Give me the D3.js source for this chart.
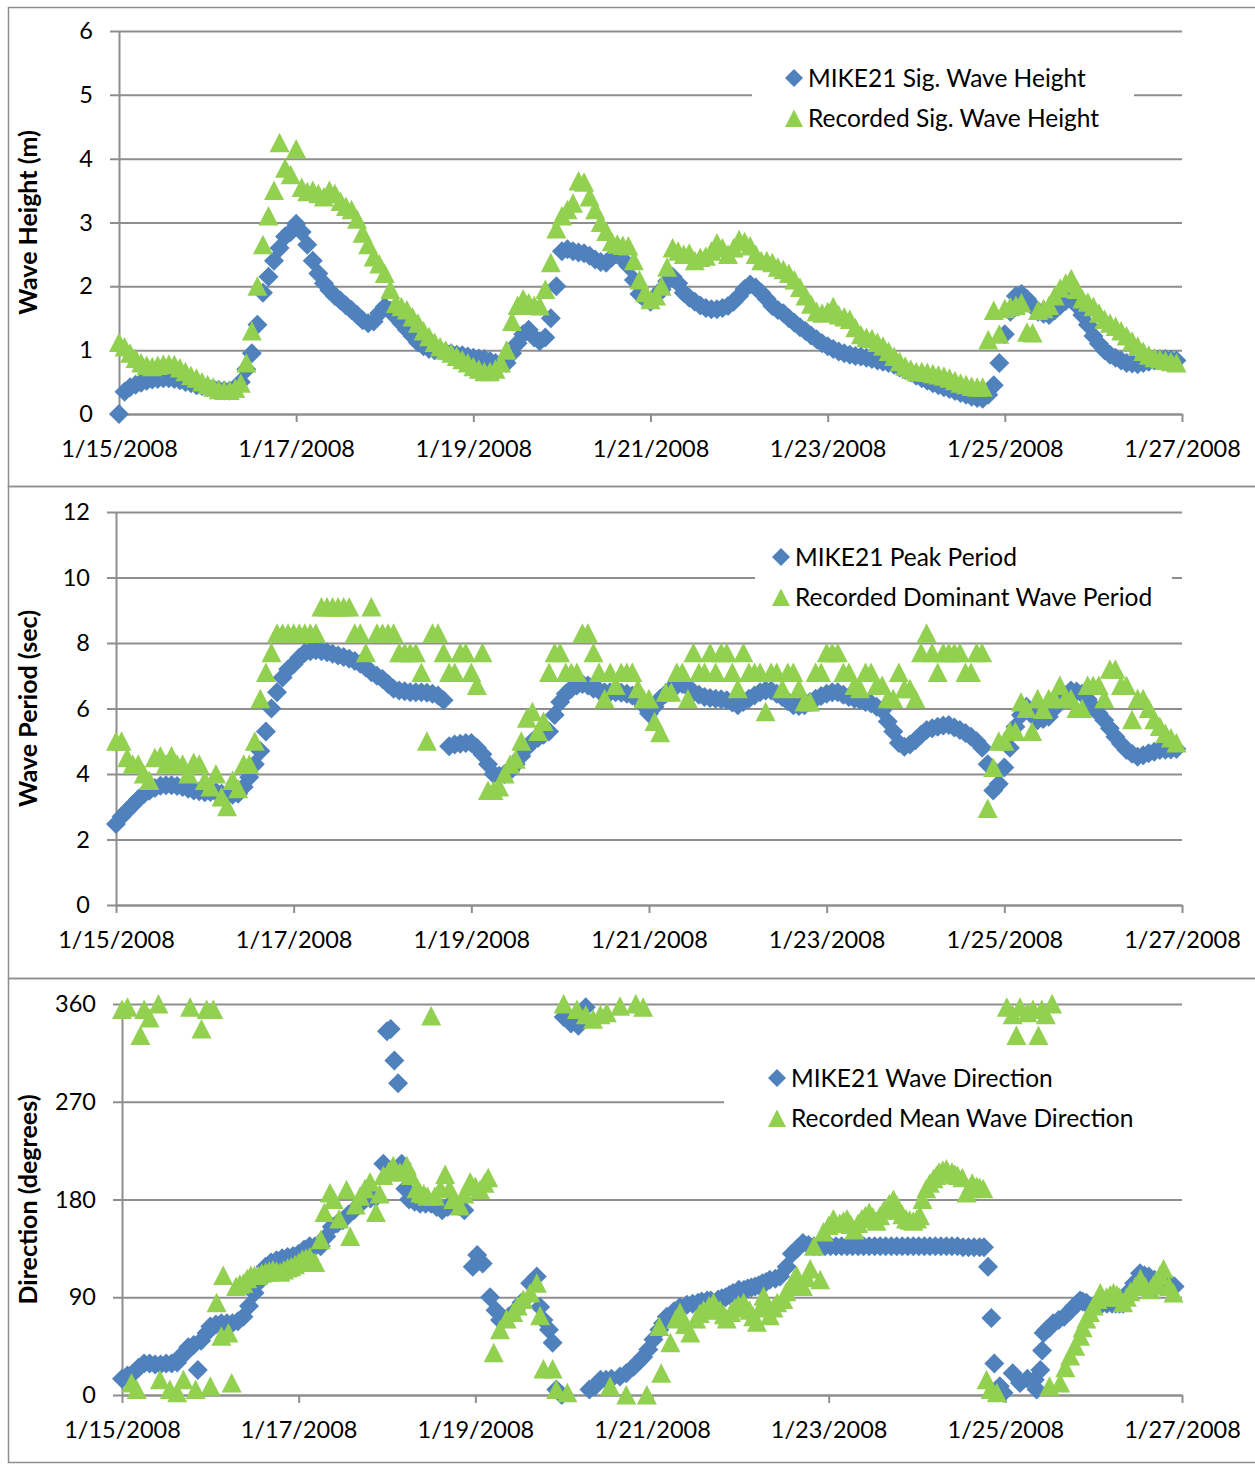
<!DOCTYPE html>
<html>
<head>
<meta charset="utf-8">
<script src="https://cdn.jsdelivr.net/npm/d3@7"></script>
<style>
  body { margin: 0; background: #fff; }
  svg { display: block; font-family: Lato, "Open Sans", sans-serif; }
</style>
</head>
<body>
<svg id="chart" width="1255" height="1465"></svg>
<script>
// tick labels (every two days) and y ticks
const dateTicks = ["2008-01-15", "2008-01-17", "2008-01-19", "2008-01-21", "2008-01-23", "2008-01-25", "2008-01-27"];
const heightTicks = [0, 1, 2, 3, 4, 5, 6];
const periodTicks = [0, 2, 4, 6, 8, 10, 12];
const dirTicks = [0, 90, 180, 270, 360];

// panels 1 and 2: one value every 1.5 hours from 1/15 00:00, one row per day
const hoursStep = d3.range(0, 288, 1.5);

const mikeHeight = [
  0.0, 0.35, 0.42, 0.46, 0.49, 0.52, 0.54, 0.55, 0.56, 0.56, 0.55, 0.53, 0.5, 0.48, 0.45, 0.44,
  0.42, 0.4, 0.38, 0.37, 0.37, 0.4, 0.5, 0.7, 0.95, 1.4, 1.9, 2.15, 2.4, 2.6, 2.78, 2.85,
  2.98, 2.85, 2.65, 2.4, 2.2, 2.05, 1.94, 1.85, 1.78, 1.7, 1.63, 1.55, 1.47, 1.42, 1.45, 1.58,
  1.68, 1.62, 1.52, 1.42, 1.32, 1.22, 1.12, 1.06, 1.02, 1.0, 1.0, 0.97, 0.95, 0.93, 0.92, 0.9,
  0.88, 0.87, 0.86, 0.83, 0.8, 0.79, 0.8, 0.95, 1.11, 1.25, 1.32, 1.2, 1.14, 1.2, 1.5, 2.0,
  2.55, 2.58, 2.55, 2.53, 2.52, 2.48, 2.42, 2.38, 2.37, 2.45, 2.5, 2.42, 2.32, 2.1, 1.88, 1.8,
  1.76, 1.85, 1.95, 2.08, 2.15, 2.05, 1.9, 1.82, 1.76, 1.7, 1.66, 1.64, 1.64, 1.66, 1.69, 1.76,
  1.85, 1.96, 2.03, 1.98, 1.9, 1.8, 1.69, 1.63, 1.58, 1.5, 1.43, 1.36, 1.3, 1.23, 1.17, 1.11,
  1.06, 1.02, 0.98, 0.95, 0.93, 0.91, 0.9, 0.88, 0.86, 0.84, 0.82, 0.8, 0.77, 0.73, 0.69, 0.65,
  0.6, 0.56, 0.52, 0.48, 0.45, 0.42, 0.39, 0.36, 0.33, 0.3, 0.27, 0.25, 0.24, 0.3, 0.45, 0.8,
  1.25, 1.6, 1.85, 1.88, 1.8, 1.7, 1.6, 1.57, 1.55, 1.62, 1.7, 1.77, 1.82, 1.7, 1.55, 1.4,
  1.22, 1.1, 1.0, 0.93, 0.88, 0.84, 0.8, 0.79, 0.78, 0.8, 0.82, 0.84, 0.86, 0.86, 0.85, 0.84
];
const recHeight = [
  1.12, 1.05, 0.95, 0.87, 0.8, 0.76, 0.74, 0.76, 0.78, 0.78, 0.77, 0.72, 0.66, 0.6, 0.56, 0.5,
  0.46, 0.42, 0.38, 0.37, 0.37, 0.4, 0.48, 0.8, 1.3, 2.0, 2.65, 3.1, 3.5, 4.25, 3.85, 3.75,
  4.15, 3.55, 3.48, 3.5, 3.45, 3.4, 3.5, 3.45, 3.33, 3.25, 3.2, 3.05, 2.83, 2.65, 2.46, 2.35,
  2.2, 1.95, 1.73, 1.68, 1.63, 1.52, 1.42, 1.3, 1.21, 1.12, 1.05, 1.0, 0.95, 0.9, 0.85, 0.8,
  0.74, 0.7, 0.66, 0.66, 0.7, 0.8, 1.0, 1.45, 1.7, 1.8, 1.74, 1.7, 1.69, 1.95, 2.37, 2.9,
  3.1, 3.2, 3.3, 3.65, 3.63, 3.4, 3.2, 3.0, 2.86, 2.7, 2.66, 2.64, 2.63, 2.4, 2.1, 1.9,
  1.79, 1.85, 2.0, 2.3, 2.6, 2.55, 2.5, 2.52, 2.4, 2.45, 2.47, 2.55, 2.68, 2.6, 2.5, 2.6,
  2.73, 2.7, 2.63, 2.5, 2.4, 2.4, 2.37, 2.3, 2.26, 2.2, 2.1, 1.98, 1.85, 1.72, 1.6, 1.58,
  1.6, 1.68, 1.55, 1.52, 1.48, 1.35, 1.24, 1.2, 1.18, 1.12, 1.06, 0.98, 0.9, 0.82, 0.75, 0.7,
  0.66, 0.66, 0.65, 0.63, 0.61, 0.59, 0.56, 0.52, 0.48, 0.46, 0.43, 0.42, 0.42, 1.16, 1.62, 1.25,
  1.65, 1.68, 1.7, 1.74, 1.28, 1.27, 1.62, 1.65, 1.7, 1.85, 1.97, 2.05, 2.12, 1.95, 1.8, 1.75,
  1.68, 1.58, 1.48, 1.42, 1.37, 1.3, 1.22, 1.14, 1.06, 0.98, 0.92, 0.88, 0.86, 0.84, 0.82, 0.8
];
const mikePeriod = [
  2.47, 2.7, 2.88, 3.05, 3.23, 3.38, 3.49, 3.57, 3.64, 3.66, 3.66, 3.63, 3.6, 3.55, 3.5, 3.47,
  3.44, 3.45, 3.45, 3.4, 3.35, 3.37, 3.4, 3.6, 3.9, 4.3, 4.7, 5.3, 6.0, 6.5, 6.95, 7.2,
  7.35, 7.55, 7.7, 7.75, 7.78, 7.75, 7.72, 7.67, 7.62, 7.57, 7.52, 7.45, 7.37, 7.25, 7.11, 7.0,
  6.9, 6.75, 6.6, 6.55, 6.53, 6.5, 6.5, 6.5, 6.48, 6.45, 6.4, 6.25, 4.85, 4.9, 4.92, 4.95,
  4.95, 4.8, 4.6, 4.3, 4.0, 3.95, 4.0, 4.1, 4.3, 4.55, 4.8, 5.0, 5.1, 5.2, 5.3, 5.8,
  6.2, 6.45, 6.6, 6.7, 6.75, 6.7, 6.6, 6.55, 6.5, 6.5, 6.5, 6.48, 6.45, 6.4, 6.3, 6.1,
  5.85, 6.05, 6.3, 6.45, 6.6, 6.7, 6.75, 6.65, 6.5, 6.42, 6.35, 6.32, 6.3, 6.28, 6.25, 6.18,
  6.1, 6.2, 6.3, 6.4, 6.5, 6.55, 6.55, 6.45, 6.35, 6.22, 6.1, 6.08, 6.1, 6.2, 6.3, 6.38,
  6.45, 6.5, 6.5, 6.42, 6.35, 6.3, 6.25, 6.2, 6.15, 6.05, 5.95, 5.6, 5.3, 4.95, 4.83, 4.9,
  5.03, 5.2, 5.34, 5.4, 5.44, 5.48, 5.5, 5.42, 5.34, 5.25, 5.14, 5.0, 4.8, 4.3, 3.5, 3.7,
  4.2, 4.8, 5.44, 5.8, 6.05, 5.8, 5.64, 5.68, 5.75, 6.0, 6.25, 6.4, 6.55, 6.52, 6.45, 6.28,
  6.05, 5.85, 5.64, 5.4, 5.14, 4.92, 4.73, 4.62, 4.53, 4.57, 4.63, 4.68, 4.73, 4.74, 4.75, 4.76
];
const recPeriod = [
  5.0, 5.0, 4.5, 4.3, 4.3, 4.0, 3.8, 4.5, 4.55, 4.3, 4.55, 4.3, 4.3, 4.0, 4.35, 4.3,
  3.8, 3.6, 4.0, 3.3, 3.0, 3.8, 3.55, 4.3, 4.3, 5.0, 6.3, 7.1, 7.7, 8.3, 8.3, 8.3,
  8.3, 8.3, 8.3, 8.3, 8.3, 9.1, 9.1, 9.1, 9.1, 9.1, 9.1, 8.3, 8.3, 7.7, 9.1, 8.3,
  8.3, 8.3, 8.3, 7.7, 7.7, 7.7, 7.7, 7.1, 5.0, 8.3, 8.3, 7.7, 7.1, 7.1, 7.7, 7.7,
  7.1, 6.7, 7.7, 3.5, 3.5, 3.6, 4.0, 4.3, 4.45, 5.0, 5.7, 5.9, 5.3, 5.6, 7.1, 7.7,
  7.7, 7.1, 7.1, 7.1, 8.3, 8.3, 7.7, 7.1, 6.3, 7.1, 6.7, 7.1, 7.1, 7.1, 6.6, 6.3,
  6.3, 5.6, 5.26, 6.5, 6.5, 7.1, 7.1, 6.3, 7.7, 7.1, 7.1, 7.7, 7.1, 7.7, 7.7, 7.1,
  6.6, 7.7, 7.1, 7.1, 7.1, 5.9, 7.1, 7.1, 6.6, 7.1, 7.1, 6.6, 6.2, 6.2, 7.1, 7.1,
  7.7, 7.7, 7.7, 7.1, 7.1, 6.7, 6.6, 7.1, 7.1, 6.7, 6.7, 6.3, 6.3, 7.1, 6.6, 6.6,
  6.3, 7.7, 8.3, 7.7, 7.1, 7.7, 7.7, 7.7, 7.7, 7.1, 7.1, 7.7, 7.7, 2.95, 4.2, 5.0,
  5.0, 5.3, 5.3, 6.2, 6.0, 5.3, 6.3, 5.97, 6.3, 6.3, 6.7, 6.3, 6.3, 6.0, 6.0, 6.7,
  6.7, 6.7, 6.3, 7.2, 7.2, 6.7, 6.7, 5.66, 6.3, 6.3, 6.0, 5.66, 5.45, 5.24, 5.1, 4.95
];

// panel 3: [hours after 1/15 00:00, degrees]
const mikeDir = [
  [0,15],[1.5,18],[3,20],[4.5,25],[6,29],[7.5,29],[9,28],[10.5,28],[12,29],[13.5,29],[15,30],[16,36],[17,38],[18,44],
  [19.5,46],[20.6,23],[21.5,50],[23,57],[24,63],[25.5,65],[27,66],[28.5,66],[30,66],[31.5,68],[33,72],[34.5,82],
  [36,94],[37.5,105],[39,118],[40.5,122],[42,124],[43.5,126],[45,127],[46.5,128],[48,130],[49.5,134],[51,137],
  [52.5,137],[54,137],[55.5,146],[57,155],[58.5,158],[60,161],[61.5,166],[63,170],[64.5,175],[66,180],[67.5,181],
  [69,182],[71,213],[72,335],[73,337],[74,308],[75,287],[76,213],[77,190],[78,180],[79.5,178],[81,176],[82.5,176],
  [84,176],[85.5,173],[87,170],[88.5,173],[90,176],[91.5,174],[93,170],[95.3,118],[96.5,129],[98,121],[100,90],
  [101.5,78],[102.7,69],[105,72],[107,78],[108.5,85],[110.9,103],[112.7,109],[113.6,81],[114.5,69],[116,60],[117,48],
  [118,5],[119.5,0],[120,348],[122,342],[124,340],[126,357],[127,5],[128.5,8],[130,14],[131.5,14],[133,15],[135.3,17],
  [137,20],[139,26],[140.5,31],[141.6,35],[143,42],[144.4,51],[146,60],[147,66],[148,72],[150,77],[151.6,81],[153.5,83],
  [155,84],[156.5,85],[157.5,86],[159,87],[160,87],[162,88],[163,89],[164,90],[165,92],[166,94],[167.6,97],[169,97],
  [170,98],[171,99],[172,100],[173,101],[174,103],[175,104],[176,106],[177.5,107],[178.8,109],[180.6,118],[182,130],
  [183.5,135],[185,140],[186.5,138],[188,137],[189.5,137],[191,137],[192.5,137],[194,137],[195.5,137],[197,137],
  [198.5,137],[200,137],[201.5,137],[203,137],[204.5,137],[206,137],[207.5,137],[209,137],[210.5,137],[212,137],
  [213.5,137],[215,137],[216.5,137],[218,137],[219.5,137],[221,137],[222.5,137],[224,137],[225.5,137],[227,137],
  [228.5,136],[230,136],[231.5,136],[233,136],[234.2,136],[235.3,118],[236.2,71],[237,29],[238.5,8],[239.5,2],
  [242,20],[244,11],[246,15],[248,14],[248.5,5],[249.5,23],[250,41],[250.4,57],[251.2,60],[252,62],[253,66],
  [254.5,69],[256,72],[257.5,77],[258.5,81],[259.5,84],[260.3,87],[261,86],[262,85],[263,81],[264,82],[265,83],
  [266.3,84],[267.6,84],[269,84],[270,84],[271,84],[272,84],[273,90],[273.5,95],[275,103],[276.6,112],[277.8,110],
  [279,109],[280.5,106],[282,103],[283,103],[284,103],[285,102],[286,100]
];
const recDir = [
  [0,355],[1.5,357],[2.6,11],[4,5],[5,331],[6,355],[7.5,347],[9.9,360],[10.3,14],[13,5],[15,2],[16.7,14],[18.5,357],
  [20,5],[21.6,337],[23,355],[24,8],[24.8,355],[25.7,85],[27,54],[27.5,110],[28.9,57],[29.8,11],[31,100],[32,102],
  [33,103],[34,107],[35,110],[36,110],[37,110],[38,112],[39,113],[40,114],[41,115],[42,114],[43,113],[44,115],[45,117],
  [46,118],[47,120],[48,122],[49,125],[50,126],[51,127],[52.5,122],[54,143],[55,168],[56.5,186],[57.5,180],[59,162],
  [61,189],[62,146],[63.5,175],[64.7,183],[66,190],[67.4,196],[69,168],[70,185],[71,202],[72.5,206],[73.7,211],
  [75.5,205],[77.4,211],[78.5,202],[80,190],[81,186],[82,185],[83,183],[84,349],[85,183],[86.5,190],[87.8,203],
  [89,190],[90,180],[91.8,174],[93,185],[94.6,196],[96,192],[97.3,189],[98.5,195],[99.5,200],[101,39],[102.7,60],
  [104.5,70],[106.3,76],[107.5,82],[109,88],[110.9,94],[112.7,103],[113.6,73],[114.5,24],[117,24],[118,5],[120,360],
  [121,2],[123.6,355],[126,350],[128,346],[130,350],[131.7,352],[132.6,8],[135.3,358],[137,0],[139.6,360],[141.6,357],
  [142.6,0],[146,63],[146.5,20],[149,48],[150.5,70],[151.6,76],[153,65],[154.4,57],[156,70],[157,75],[158,78],
  [159.5,82],[160.7,85],[161.5,80],[162.5,78],[163.5,74],[164.3,70],[165.5,76],[166.5,80],[167.5,83],[168.9,85],
  [170.5,78],[171.5,72],[172.5,67],[173.5,80],[174.3,91],[175,82],[176,73],[177,80],[178,85],[179.7,88],[180.5,95],
  [181.5,100],[182.5,106],[183.3,110],[184,104],[185,100],[186,108],[187,116],[188,137],[189.7,106],[190.6,150],
  [192,156],[193.3,162],[195,158],[196,160],[197,162],[198,157],[199,152],[200,158],[201,162],[202,165],[203,168],
  [204,164],[205,160],[206,165],[207,170],[208.5,176],[209.6,180],[210.5,175],[211,170],[212,166],[213,162],[214,161],
  [215,160],[216,162],[216.8,165],[217.5,180],[218.5,190],[219.5,195],[220.5,199],[221.3,202],[222,205],[223,207],
  [224,208],[225.5,205],[226.3,203],[227,202],[228.3,200],[229.5,186],[230.3,190],[231,195],[232.2,192],[233,191],
  [234,190],[234.9,14],[236,5],[237.7,2],[240.4,357],[242,350],[243,331],[244,357],[246,352],[247.5,355],[249,331],
  [249.9,355],[251,350],[252,8],[252.7,360],[254.9,11],[256.3,25],[257.6,36],[259,45],[260.3,54],[261,62],[262,70],
  [263,76],[264,82],[265,88],[265.8,94],[267.5,90],[268.5,92],[269.4,94],[270.3,92],[271,90],[272,85],[273,90],
  [274,95],[275.3,100],[276.7,107],[278,100],[279.4,97],[280.2,101],[281,105],[282,110],[283,116],[284.5,100],
  [285.7,94]
];

const svg = d3.select("#chart");
const parseDay = d3.timeParse("%Y-%m-%d");
const t0 = parseDay(dateTicks[0]);
const atHour = h => new Date(+t0 + h * 36e5);
const fmt = d3.timeFormat("%-m/%-d/%Y");

const grey = "#8e8e8e";
const blue = "#4f81bd";
const green = "#92d050";
const diamond = r => `M0,${-r}L${r},0L0,${r}L${-r},0Z`;
const triangle = r => `M0,${-r}L${r},${r * 0.95}L${-r},${r * 0.95}Z`;

const stepped = vals => hoursStep.map((h, i) => [h, vals[i]]);

const panels = [
  { frame: [7, 486], left: 119, right: 1182, top: 31, bottom: 414, domain: [0, 6], ticks: heightTicks,
    title: "Wave Height (m)",
    series: [stepped(mikeHeight), stepped(recHeight)],
    names: ["MIKE21 Sig. Wave Height", "Recorded Sig. Wave Height"],
    legend: { x0: 752, x1: 1134, mark: 794, y: 78 } },
  { frame: [486, 978], left: 116, right: 1182, top: 512, bottom: 905, domain: [0, 12], ticks: periodTicks,
    title: "Wave Period (sec)",
    series: [stepped(mikePeriod), stepped(recPeriod)],
    names: ["MIKE21 Peak Period", "Recorded Dominant Wave Period"],
    legend: { x0: 755, x1: 1172, mark: 781, y: 557 } },
  { frame: [978, 1462], left: 122, right: 1182, top: 1004, bottom: 1395, domain: [0, 360], ticks: dirTicks,
    title: "Direction (degrees)",
    series: [mikeDir, recDir],
    names: ["MIKE21 Wave Direction", "Recorded Mean Wave Direction"],
    legend: { x0: 724, x1: 1182, mark: 777, y: 1078 } }
];

panels.forEach(p => {
  // outer frame
  svg.append("rect")
    .attr("x", 8.5).attr("y", p.frame[0] + 0.5)
    .attr("width", 1270).attr("height", p.frame[1] - p.frame[0])
    .attr("fill", "none").attr("stroke", grey).attr("stroke-width", 1.5);

  const g = svg.append("g");
  const x = d3.scaleTime()
    .domain([t0, parseDay(dateTicks[dateTicks.length - 1])])
    .range([p.left, p.right]);
  const y = d3.scaleLinear().domain(p.domain).range([p.bottom, p.top]);

  // Y axis with grid lines
  const gy = g.append("g")
    .attr("transform", `translate(${p.left},0)`)
    .call(d3.axisLeft(y).tickValues(p.ticks).tickFormat(d3.format("d"))
      .tickSizeInner(-(p.right - p.left)).tickSizeOuter(0).tickPadding(26));
  gy.selectAll(".tick line").attr("x1", -9).attr("stroke", grey).attr("stroke-width", 2);

  // X axis
  const gx = g.append("g")
    .attr("transform", `translate(0,${p.bottom})`)
    .call(d3.axisBottom(x).tickValues(dateTicks.map(parseDay)).tickFormat(fmt)
      .tickSizeInner(8).tickSizeOuter(0).tickPadding(18));
  gx.selectAll(".tick line").attr("stroke", grey).attr("stroke-width", 2);

  [gx, gy].forEach(a => {
    a.attr("font-size", null).attr("font-family", null);
    a.select(".domain").attr("stroke", grey).attr("stroke-width", 2);
    a.selectAll("text").attr("font-size", 23.5).attr("fill", "#000");
  });

  // Y title
  g.append("text")
    .attr("transform", `translate(37,${(p.top + p.bottom) / 2}) rotate(-90)`)
    .attr("text-anchor", "middle")
    .attr("font-weight", "bold").attr("font-size", 25)
    .text(p.title);

  // markers: model first, recorded on top
  const shapes = [diamond(10), triangle(10)];
  const colors = [blue, green];
  p.series.forEach((s, i) => {
    g.append("g").selectAll("path")
      .data(s)
      .join("path")
      .attr("d", shapes[i])
      .attr("fill", colors[i])
      .attr("transform", d => `translate(${x(atHour(d[0]))},${y(d[1])})`);
  });

  // legend
  const L = p.legend;
  g.append("rect")
    .attr("x", L.x0).attr("y", L.y - 20)
    .attr("width", L.x1 - L.x0).attr("height", 82)
    .attr("fill", "#fff");
  p.names.forEach((name, i) => {
    const cy = L.y + i * 40.5;
    g.append("path")
      .attr("d", i === 0 ? diamond(9) : triangle(9))
      .attr("fill", colors[i])
      .attr("transform", `translate(${L.mark},${cy})`);
    g.append("text")
      .attr("x", L.mark + 14).attr("y", cy + 8.5)
      .attr("font-size", 24.5)
      .text(name);
  });
});
</script>
</body>
</html>
